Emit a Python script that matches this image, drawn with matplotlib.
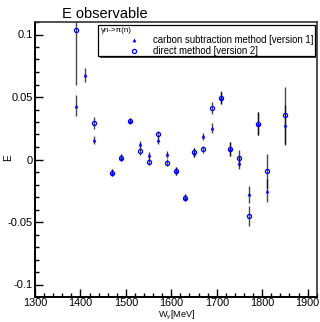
import numpy as np
import matplotlib
matplotlib.use("Agg")
import matplotlib.pyplot as plt
from matplotlib import ticker
from matplotlib.patches import Rectangle
from matplotlib.lines import Line2D

# ---------------- data ----------------
W = [1390, 1410, 1430, 1470, 1490, 1510, 1530, 1550, 1570, 1590, 1610,
     1630, 1650, 1670, 1690, 1710, 1730, 1750, 1770, 1790, 1810, 1850]
carbon_E = [0.043, 0.0676, 0.0155, -0.0105, 0.0015, 0.031, 0.0121, 0.0033,
            0.0154, 0.0041, -0.0092, -0.0305, 0.0055, 0.0185, 0.0252, 0.0492,
            0.0084, -0.0025, -0.0279, 0.0287, -0.0249, 0.0276]
carbon_err = [0.0084, 0.0053, 0.003, 0.003, 0.003, 0.0022, 0.003, 0.003,
              0.003, 0.003, 0.003, 0.003, 0.0036, 0.003, 0.0043, 0.005,
              0.0055, 0.005, 0.007, 0.009, 0.009, 0.016]
direct_E = [0.104, np.nan, 0.0292, -0.0105, 0.0015, 0.0312, 0.0068, -0.0017,
            0.0201, -0.0025, -0.009, -0.0305, 0.006, 0.0081, 0.0413, 0.0495,
            0.0087, 0.0012, -0.0452, 0.0287, -0.0092, 0.0354]
direct_err = [0.0444, np.nan, 0.005, 0.003, 0.003, 0.0022, 0.003, 0.003,
              0.003, 0.003, 0.003, 0.003, 0.0036, 0.003, 0.0045, 0.0053,
              0.0055, 0.0067, 0.008, 0.0093, 0.0138, 0.0226]
y_ticks = [-0.1, -0.05, 0, 0.05, 0.1]
y_tick_labels = ["-0.1", "-0.05", "0", "0.05", "0.1"]
x_ticks = [1300, 1400, 1500, 1600, 1700, 1800, 1900]
title = "E observable"
legend_header = "γn->π(n)"
label_carbon = "carbon subtraction method [version 1]"
label_direct = "direct method [version 2]"

# ---------------- style ----------------
plt.rcParams['font.family'] = ['Liberation Sans', 'DejaVu Sans']
plt.rcParams['mathtext.fontset'] = 'custom'
plt.rcParams['mathtext.rm'] = 'Liberation Sans'
plt.rcParams['mathtext.it'] = 'Liberation Sans:italic'
plt.rcParams['axes.unicode_minus'] = False

FW, FH = 320, 322
fig = plt.figure(figsize=(FW / 100, FH / 100), dpi=100)

def fx(px):
    return px / FW

def fy(py):
    return 1 - py / FH

ax_l, ax_r, ax_t, ax_b = 35, 316.7, 22, 297
ax = fig.add_axes([fx(ax_l), fy(ax_b), fx(ax_r) - fx(ax_l), fy(ax_t) - fy(ax_b)])

blue = '#0000ff'
bar_col = (0, 0, 0, 0.72)

ax.errorbar(W, carbon_E, yerr=carbon_err, fmt='none', ecolor=bar_col,
            elinewidth=1.0, capsize=0, zorder=2)
ax.errorbar(W, direct_E, yerr=direct_err, fmt='none', ecolor=bar_col,
            elinewidth=1.0, capsize=0, zorder=2)
ax.plot(W, carbon_E, linestyle='none', marker='^', markersize=2.3,
        color=blue, markeredgewidth=0.3, zorder=3)
ax.plot(W, direct_E, linestyle='none', marker='o', markersize=3.0,
        markerfacecolor='none', markeredgecolor=blue, markeredgewidth=0.9,
        zorder=4)

ax.set_xlim(1300, 1920)
ax.set_ylim(-0.11, 0.11)
ax.set_xticks(x_ticks)
ax.set_xticklabels([str(t) for t in x_ticks])
ax.set_yticks(y_ticks)
ax.set_yticklabels(y_tick_labels)
ax.xaxis.set_minor_locator(ticker.MultipleLocator(20))
ax.yaxis.set_minor_locator(ticker.MultipleLocator(0.01))
ax.tick_params(which='both', direction='in', top=False, right=False,
               labelsize=8.0, width=1.0, color='black')
ax.tick_params(axis='x', labelsize=7.8)
ax.tick_params(which='major', length=6)
ax.tick_params(which='minor', length=3.2)
ax.tick_params(axis='y', pad=1.5)
ax.tick_params(axis='x', pad=1.0)
for side in ['left', 'bottom']:
    ax.spines[side].set_linewidth(1.4)
for side in ['top', 'right']:
    ax.spines[side].set_linewidth(1.2)
    ax.spines[side].set_color('#333333')

# titles / axis labels
fig.text(fx(62), fy(14.5), title, fontsize=10.5, ha='left', va='center')
fig.text(fx(177), fy(321.8), "W$_{γ}$[MeV]", fontsize=6.6, ha='center', va='bottom')
fig.text(fx(8), fy(158), "E", fontsize=7.2, ha='center', va='center', rotation=90)

# legend box (ROOT-style with shadow)
lg_l, lg_r, lg_t, lg_b = 97.5, 314.5, 25.5, 56
sh = 2.0
fig.patches.append(Rectangle((fx(lg_l + sh), fy(lg_b + sh)), fx(lg_r - lg_l), fy(lg_t) - fy(lg_b),
                             transform=fig.transFigure, facecolor='#444444',
                             edgecolor='none', zorder=5))
fig.patches.append(Rectangle((fx(lg_l), fy(lg_b)), fx(lg_r - lg_l), fy(lg_t) - fy(lg_b),
                             transform=fig.transFigure, facecolor='white',
                             edgecolor='black', linewidth=0.9, zorder=6))
fig.text(fx(100.5), fy(30), legend_header, fontsize=5.8, ha='left', va='center', zorder=7)
fig.lines.append(Line2D([fx(133.5)], [fy(40)], transform=fig.transFigure, marker='^',
                        markersize=2.3, color=blue, markeredgewidth=0.3, linestyle='none', zorder=7))
fig.lines.append(Line2D([fx(133.5)], [fy(50.7)], transform=fig.transFigure, marker='o',
                        markersize=3.0, markerfacecolor='none', markeredgecolor=blue,
                        markeredgewidth=0.9, linestyle='none', zorder=7))
fig.text(fx(152.7), fy(40), label_carbon, fontsize=6.9, ha='left', va='center', zorder=7)
fig.text(fx(152.7), fy(50.7), label_direct, fontsize=6.9, ha='left', va='center', zorder=7)

fig.savefig("out.png", dpi=100)
